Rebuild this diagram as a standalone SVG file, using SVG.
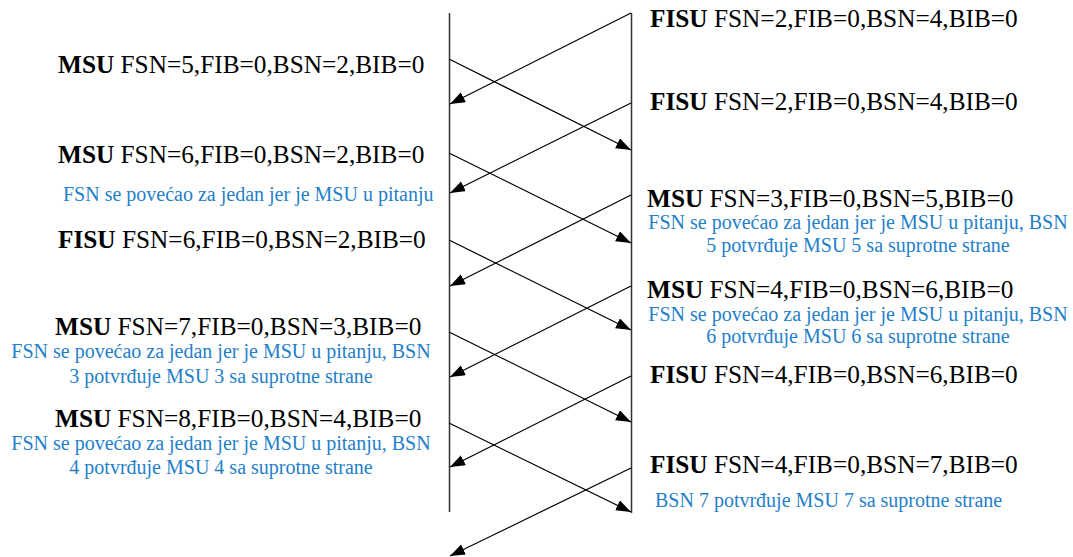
<svg xmlns="http://www.w3.org/2000/svg" width="1073" height="557" viewBox="0 0 1073 557">
  <defs>
    <style>
      .lbl { font-family: "Liberation Serif", "Times New Roman", serif; font-size: 25.3px; fill: #000; }
      .lbl .kind { font-weight: bold; }
      .note { font-family: "Liberation Serif", "Times New Roman", serif; font-size: 20px; fill: #1f7fca; }
      .mid { text-anchor: middle; }
      .life { stroke: #333; stroke-width: 1.5; fill: none; }
      .msg { stroke: #000; stroke-width: 1.2; fill: none; marker-end: url(#tip); }
    </style>
    <marker id="tip" markerUnits="userSpaceOnUse" markerWidth="16" markerHeight="12" refX="15" refY="5.5" orient="auto">
      <path d="M0,0 L15,5.5 L0,11 Z" fill="#000"/>
    </marker>
  </defs>
  <rect width="1073" height="557" fill="#fff"/>

  <!-- the two signalling points -->
  <g id="left-end">
    <line class="life" x1="449.5" y1="13" x2="449.5" y2="512"/>
  </g>
  <g id="right-end">
    <line class="life" x1="631.5" y1="13" x2="631.5" y2="513"/>
  </g>

  <!-- signal units in flight -->
  <g id="connectors">
    <line class="msg" x1="631" y1="13" x2="450" y2="104"/>
    <line class="msg" x1="449" y1="59" x2="631" y2="150"/>
    <line class="msg" x1="631" y1="103" x2="450" y2="193"/>
    <line class="msg" x1="449" y1="153" x2="631" y2="243"/>
    <line class="msg" x1="631" y1="195" x2="450" y2="286"/>
    <line class="msg" x1="449" y1="240" x2="631" y2="330"/>
    <line class="msg" x1="631" y1="286" x2="450" y2="377"/>
    <line class="msg" x1="449" y1="332" x2="631" y2="422"/>
    <line class="msg" x1="631" y1="376" x2="450" y2="467"/>
    <line class="msg" x1="449" y1="423" x2="631" y2="512"/>
    <line class="msg" x1="631" y1="468" x2="450" y2="556"/>
  </g>

  <!-- left side labels -->
  <g id="l-msu5">
    <text class="lbl" x="58" y="73"><tspan class="kind">MSU</tspan> FSN=5,FIB=0,BSN=2,BIB=0</text>
  </g>
  <g id="l-msu6">
    <text class="lbl" x="58" y="163"><tspan class="kind">MSU</tspan> FSN=6,FIB=0,BSN=2,BIB=0</text>
    <text class="note" x="63" y="201">FSN se povećao za jedan jer je MSU u pitanju</text>
  </g>
  <g id="l-fisu6">
    <text class="lbl" x="58" y="248"><tspan class="kind">FISU</tspan> FSN=6,FIB=0,BSN=2,BIB=0</text>
  </g>
  <g id="l-msu7">
    <text class="lbl" x="55" y="335"><tspan class="kind">MSU</tspan> FSN=7,FIB=0,BSN=3,BIB=0</text>
    <text class="note mid" x="221" y="358">FSN se povećao za jedan jer je MSU u pitanju, BSN</text>
    <text class="note mid" x="221" y="383">3 potvrđuje MSU 3 sa suprotne strane</text>
  </g>
  <g id="l-msu8">
    <text class="lbl" x="55" y="427"><tspan class="kind">MSU</tspan> FSN=8,FIB=0,BSN=4,BIB=0</text>
    <text class="note mid" x="221" y="450">FSN se povećao za jedan jer je MSU u pitanju, BSN</text>
    <text class="note mid" x="221" y="474">4 potvrđuje MSU 4 sa suprotne strane</text>
  </g>

  <!-- right side labels -->
  <g id="r-fisu2a">
    <text class="lbl" x="650" y="27"><tspan class="kind">FISU</tspan> FSN=2,FIB=0,BSN=4,BIB=0</text>
  </g>
  <g id="r-fisu2b">
    <text class="lbl" x="650" y="110"><tspan class="kind">FISU</tspan> FSN=2,FIB=0,BSN=4,BIB=0</text>
  </g>
  <g id="r-msu3">
    <text class="lbl" x="647" y="207"><tspan class="kind">MSU</tspan> FSN=3,FIB=0,BSN=5,BIB=0</text>
    <text class="note mid" x="858" y="229">FSN se povećao za jedan jer je MSU u pitanju, BSN</text>
    <text class="note mid" x="858" y="252">5 potvrđuje MSU 5 sa suprotne strane</text>
  </g>
  <g id="r-msu4">
    <text class="lbl" x="647" y="298"><tspan class="kind">MSU</tspan> FSN=4,FIB=0,BSN=6,BIB=0</text>
    <text class="note mid" x="858" y="321">FSN se povećao za jedan jer je MSU u pitanju, BSN</text>
    <text class="note mid" x="858" y="343">6 potvrđuje MSU 6 sa suprotne strane</text>
  </g>
  <g id="r-fisu4a">
    <text class="lbl" x="650" y="383"><tspan class="kind">FISU</tspan> FSN=4,FIB=0,BSN=6,BIB=0</text>
  </g>
  <g id="r-fisu4b">
    <text class="lbl" x="650" y="473"><tspan class="kind">FISU</tspan> FSN=4,FIB=0,BSN=7,BIB=0</text>
    <text class="note" x="655" y="507">BSN 7 potvrđuje MSU 7 sa suprotne strane</text>
  </g>
</svg>
